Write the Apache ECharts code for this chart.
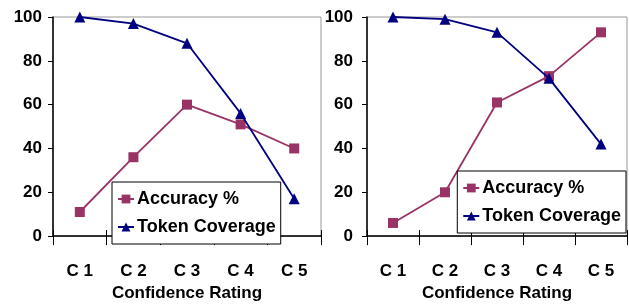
<!DOCTYPE html>
<html>
<head>
<meta charset="utf-8">
<script src="https://cdn.jsdelivr.net/npm/echarts@6/dist/echarts.min.js"></script>
<style>
  html, body { margin: 0; padding: 0; background: #fff; }
  #main { width: 629px; height: 307px; }
</style>
</head>
<body>
<div id="main"></div>
<script>
// data
const categories = ['C 1', 'C 2', 'C 3', 'C 4', 'C 5']
const leftAccuracy = [11, 36, 60, 51, 40]
const leftCoverage = [100, 97, 88, 56, 17]
const rightAccuracy = [6, 20, 61, 73, 93]
const rightCoverage = [100, 99, 93, 72, 42]
const yTicks = [0, 20, 40, 60, 80, 100]

const FONT = "'Liberation Sans', Arial, sans-serif"
const plum = '#993366'
const navy = '#000080'

var myChart = echarts.init(document.getElementById('main'))

function xAxisFor(i) {
  return {
    type: 'category',
    gridIndex: i,
    data: categories,
    axisLine: { lineStyle: { color: '#000', width: 1.5 } },
    axisTick: { show: true, length: 9, lineStyle: { color: '#000', width: 1 } },
    axisLabel: { margin: 27, fontFamily: FONT, fontWeight: 'bold', fontSize: 17, color: '#000' },
    name: 'Confidence Rating',
    nameLocation: 'middle',
    nameGap: 48,
    nameTextStyle: { fontFamily: FONT, fontWeight: 'bold', fontSize: 17, color: '#000' }
  }
}

// top axis pushed down onto the bottom line, its ticks point up,
// so the category ticks cross the axis line like in the picture
function crossTicksFor(i) {
  return {
    type: 'category',
    gridIndex: i,
    data: categories,
    position: 'top',
    offset: -220,
    axisLine: { show: false },
    axisTick: { show: true, length: 7, lineStyle: { color: '#000', width: 1 } },
    axisLabel: { show: false }
  }
}

function yAxisFor(i, margin) {
  return {
    type: 'value',
    gridIndex: i,
    min: 0,
    max: 100,
    interval: 20,
    axisLine: { show: true, lineStyle: { color: '#000', width: 1.5 } },
    axisTick: { show: true, length: 5, lineStyle: { color: '#000' } },
    splitLine: { show: false },
    axisLabel: {
      margin: margin, fontFamily: FONT, fontWeight: 'bold', fontSize: 17, color: '#000',
      padding: [3, 0, 0, 0],
      formatter: v => yTicks.includes(v) ? String(v) : ''
    }
  }
}

function lineSeries(name, data, i, color, symbol) {
  return {
    name: name,
    type: 'line',
    xAxisIndex: i,
    yAxisIndex: i,
    data: data,
    symbol: symbol,
    symbolSize: symbol === 'rect' ? 10 : 11,
    lineStyle: { color: color, width: 1.8 },
    itemStyle: { color: color },
    z: symbol === 'rect' ? 2 : 3
  }
}

function legendAt(pos) {
  return Object.assign({
    orient: 'vertical',
    data: ['Accuracy %', 'Token Coverage'],
    padding: [8, 5, 8, 5],
    itemGap: 10,
    itemWidth: 16,
    itemHeight: 11,
    borderColor: '#000',
    borderWidth: 1,
    backgroundColor: '#fff',
    textStyle: { fontFamily: FONT, fontWeight: 'bold', fontSize: 18, color: '#000', padding: [0, 0, 0, -2] }
  }, pos)
}

var option = {
  animation: false,
  grid: [
    { left: 53, top: 17, width: 268, height: 220, show: true, borderColor: '#999', borderWidth: 1 },
    { left: 367, top: 17, width: 260, height: 220, show: true, borderColor: '#999', borderWidth: 1 }
  ],
  xAxis: [xAxisFor(0), xAxisFor(1), crossTicksFor(0), crossTicksFor(1)],
  yAxis: [yAxisFor(0, 11), yAxisFor(1, 14)],
  legend: [legendAt({ left: 112, top: 182 }), legendAt({ right: 3, top: 171 })],
  series: [
    lineSeries('Accuracy %', leftAccuracy, 0, plum, 'rect'),
    lineSeries('Token Coverage', leftCoverage, 0, navy, 'triangle'),
    lineSeries('Accuracy %', rightAccuracy, 1, plum, 'rect'),
    lineSeries('Token Coverage', rightCoverage, 1, navy, 'triangle')
  ]
}

myChart.setOption(option)
</script>
</body>
</html>
